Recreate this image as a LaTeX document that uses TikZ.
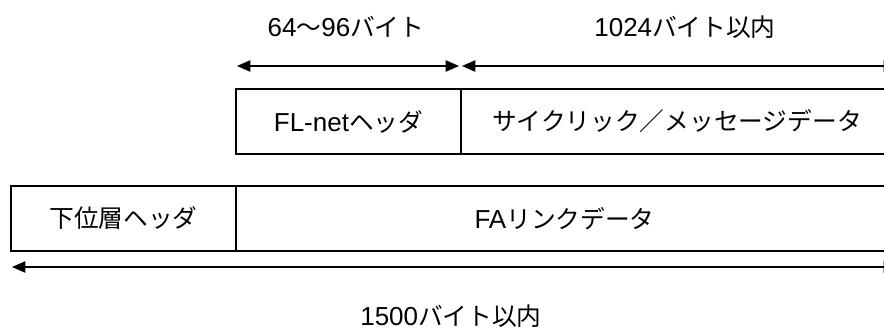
\documentclass[tikz,border=0pt]{standalone}
\usepackage{fontspec}
\setmainfont{Liberation Sans}
\newfontfamily\jpf[Scale=0.95]{Noto Sans CJK JP}
\usetikzlibrary{arrows.meta}
\begin{document}
\begin{tikzpicture}[x=0.75pt,y=-0.75pt,
  box/.style={draw=black,line width=1.6pt,rectangle,inner sep=0pt,minimum height=48.75pt,font=\fontsize{19.5pt}{22pt}\selectfont},
  lbl/.style={inner sep=0pt,font=\fontsize{19.5pt}{22pt}\selectfont},
  dim/.style={line width=1pt,{Triangle[length=10pt,width=8.5pt]}-{Triangle[length=10pt,width=8.5pt]}}]
\clip (0,0) rectangle (884,329);
\fill[white] (0,0) rectangle (884,329);
% top row boxes
\node[box,minimum width=168.75pt] (fl) at (348.5,121.5) {FL-net{\jpf ヘッダ}};
\node[box,minimum width=324pt] (cy) at (677,121.5) {\jpf サイクリック／メッセージデータ};
% bottom row boxes
\node[box,minimum width=168.75pt] (ka) at (123.5,218.5) {\jpf 下位層ヘッダ};
\node[box,minimum width=492.75pt] (fa) at (564.5,218.5) {FA{\jpf リンクデータ}};
% dimension arrows
\coordinate (t1) at (237,66);
\coordinate (t2) at (459,66);
\coordinate (t3) at (462,66);
\coordinate (t4) at (897,66);
\coordinate (b1) at (12,267);
\coordinate (b2) at (897,267);
\draw[dim] (t1) -- (t2);
\draw[dim] (t3) -- (t4);
\draw[dim] (b1) -- (b2);
% labels
\node[lbl] (l1) at (346,27) {64{\jpf 〜}96{\jpf バイト}};
\node[lbl] (l2) at (685,27) {1024{\jpf バイト以内}};
\node[lbl] (l3) at (451,316) {1500{\jpf バイト以内}};
\end{tikzpicture}
\end{document}
